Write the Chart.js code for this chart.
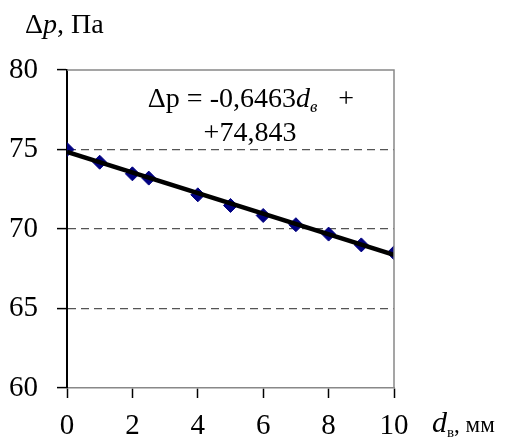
<!DOCTYPE html>
<html>
<head>
<meta charset="utf-8">
<script src="https://cdn.jsdelivr.net/npm/chart.js@4"></script>
<style>
  body { margin: 0; background: #fff; }
  #wrap { width: 512px; height: 444px; }
</style>
</head>
<body>
<div id="wrap"><canvas id="dpChart" width="512" height="444"></canvas></div>
<script>
// measured points: d_v (mm) -> dp (Pa)
const dv = [0, 1, 2, 2.5, 4, 5, 6, 7, 8, 9, 10];
const dp = [75.0, 74.2, 73.47, 73.2, 72.15, 71.48, 70.85, 70.27, 69.68, 69.0, 68.5];
// linear trend line end points
const trendX = [0, 10];
const trendY = [74.843, 68.38];
const xTicks = [0, 2, 4, 6, 8, 10];
const yTicks = [60, 65, 70, 75, 80];

const serif = '"Liberation Serif", "Times New Roman", serif';

// draws the frame, the equation and the axis titles
const labelsPlugin = {
  id: 'labels',
  afterDatasetsDraw(chart) {
    const c = chart.ctx;
    const a = chart.chartArea;
    c.save();
    c.strokeStyle = '#888';
    c.lineWidth = 1.5;
    c.beginPath();
    c.moveTo(a.left, a.top);
    c.lineTo(a.right, a.top);
    c.lineTo(a.right, a.bottom);
    c.stroke();
    c.restore();
  },
  afterDraw(chart) {
    const c = chart.ctx;
    c.save();
    c.fillStyle = '#000';
    c.textBaseline = 'alphabetic';

    // equation, line 1
    const parts = [
      ['Δp = -0,6463', '28px ' + serif, 0],
      ['d', 'italic 28px ' + serif, 0],
      ['в', 'italic 17px ' + serif, 5],
      ['   +', '28px ' + serif, 0]
    ];
    let w = 0;
    parts.forEach(p => { c.font = p[1]; w += c.measureText(p[0]).width; });
    let x = 251 - w / 2;
    parts.forEach(p => {
      c.font = p[1];
      c.fillText(p[0], x, 107 + p[2]);
      x += c.measureText(p[0]).width;
    });
    // equation, line 2
    c.font = '28px ' + serif;
    c.textAlign = 'center';
    c.fillText('+74,843', 250, 141);

    // y axis title
    c.textAlign = 'left';
    let tx = 25;
    [['Δ', '28px '], ['p', 'italic 28px '], [', Па', '28px ']].forEach(p => {
      c.font = p[1] + serif;
      c.fillText(p[0], tx, 33);
      tx += c.measureText(p[0]).width;
    });

    // x axis title
    tx = 432;
    [['d', 'italic 30px ', 432], ['в', '15px ', 437], [', мм', '23px ', 432]].forEach(p => {
      c.font = p[1] + serif;
      c.fillText(p[0], tx, p[2]);
      tx += c.measureText(p[0]).width;
    });
    c.restore();
  }
};

const dpData = {
  datasets: [
    {
      label: 'trend',
      data: trendX.map((v, i) => ({ x: v, y: trendY[i] })),
      borderColor: '#000',
      borderWidth: 4.5,
      pointRadius: 0,
      showLine: true,
      order: 0
    },
    {
      label: 'dp',
      data: dv.map((v, i) => ({ x: v, y: dp[i] })),
      backgroundColor: '#000080',
      borderColor: '#000080',
      pointStyle: 'rectRot',
      pointRadius: 7,
      showLine: false,
      order: 1
    }
  ]
};

const dpConfig = {
  type: 'scatter',
  data: dpData,
  options: {
    responsive: false,
    animation: false,
    layout: { padding: { top: 70, right: 118, left: 0, bottom: 0 } },
    plugins: {
      legend: { display: false },
      tooltip: { enabled: false }
    },
    scales: {
      x: {
        type: 'linear',
        min: 0,
        max: 10,
        afterFit: s => { s.height = 56; },
        afterBuildTicks: s => { s.ticks = xTicks.map(v => ({ value: v })); },
        grid: { drawOnChartArea: false, tickLength: 10, tickColor: '#000', tickWidth: 1.5 },
        border: { color: '#888', width: 1.5 },
        ticks: { color: '#000', padding: 11, font: { family: serif, size: 29 } }
      },
      y: {
        type: 'linear',
        min: 60,
        max: 80,
        afterFit: s => { s.width = 67; },
        afterBuildTicks: s => { s.ticks = yTicks.map(v => ({ value: v })); },
        grid: {
          color: ctx => (ctx.tick && (ctx.tick.value === 60 || ctx.tick.value === 80)) ? 'rgba(0,0,0,0)' : '#555',
          lineWidth: 1.2,
          tickLength: 10,
          tickColor: '#000',
          tickWidth: 1.5
        },
        border: { color: '#000', width: 2, dash: [8, 5] },
        ticks: { color: '#000', padding: 19, font: { family: serif, size: 29 } }
      }
    }
  },
  plugins: [labelsPlugin]
};

const dpCanvas = document.getElementById('dpChart');
new Chart(dpCanvas, dpConfig);
</script>
</body>
</html>
